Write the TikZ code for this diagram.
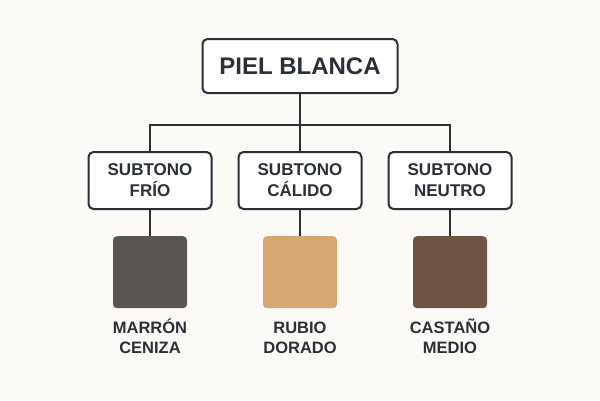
\documentclass[tikz,border=0pt]{standalone}
\usepackage{fontspec}
\setmainfont{Liberation Sans}
\usepackage{tikz}
\usetikzlibrary{positioning}
\definecolor{paper}{HTML}{FBFAF7}
\definecolor{ink}{HTML}{2B2F38}
\definecolor{ceniza}{HTML}{5A5550}
\definecolor{dorado}{HTML}{D4A870}
\definecolor{castano}{HTML}{6D5444}
\newcommand{\accentrow}{\vphantom{ÓÑ}}
\tikzset{
    root/.style={rectangle, rounded corners=5pt, draw=ink, fill=white, line width=2pt, minimum width=195pt, minimum height=54pt, inner sep=0pt, text=ink, font=\fontsize{24}{28}\selectfont\bfseries},
    tone/.style={rectangle, rounded corners=5pt, draw=ink, fill=white, line width=2pt, minimum width=123pt, minimum height=57pt, inner sep=0pt, align=center, text=ink, font=\fontsize{17}{21}\selectfont\bfseries},
    swatch/.style={rectangle, rounded corners=4pt, minimum width=74pt, minimum height=72pt, inner sep=0pt},
    hue/.style={align=center, inner sep=0pt, text=ink, font=\fontsize{16.5}{20}\selectfont\bfseries},
    link/.style={draw=ink, line width=2pt},
}
\begin{document}
\begin{tikzpicture}[x=1pt, y=1pt]
        \fill[paper] (0,0) rectangle (600,-400);
        \node [root] (piel) at (300,-66) {PIEL BLANCA};
        \node [tone] (calido) [below=57pt of piel] {SUBTONO\\CÁLIDO};
        \node [tone] (frio) [left=25pt of calido] {SUBTONO\\FRÍO};
        \node [tone] (neutro) [right=25pt of calido] {SUBTONO\\NEUTRO};
        \node [swatch, fill=ceniza] (marron) [below=26pt of frio] {};
        \node [swatch, fill=dorado] (rubio) [below=26pt of calido] {};
        \node [swatch, fill=castano] (castano) [below=26pt of neutro] {};
        \node [hue] (tmarron) [below=10pt of marron] {\accentrow MARRÓN\\CENIZA};
        \node [hue] (trubio) [below=10pt of rubio] {\accentrow RUBIO\\DORADO};
        \node [hue] (tcastano) [below=10pt of castano] {\accentrow CASTAÑO\\MEDIO};
        \coordinate [below=31pt of piel.south] (bus);
        \draw[link] (piel) -- (calido);
        \draw[link] (frio.north) |- (bus) -| (neutro.north);
        \draw[link] (frio) -- (marron);
        \draw[link] (calido) -- (rubio);
        \draw[link] (neutro) -- (castano);
    \end{tikzpicture}
\end{document}
